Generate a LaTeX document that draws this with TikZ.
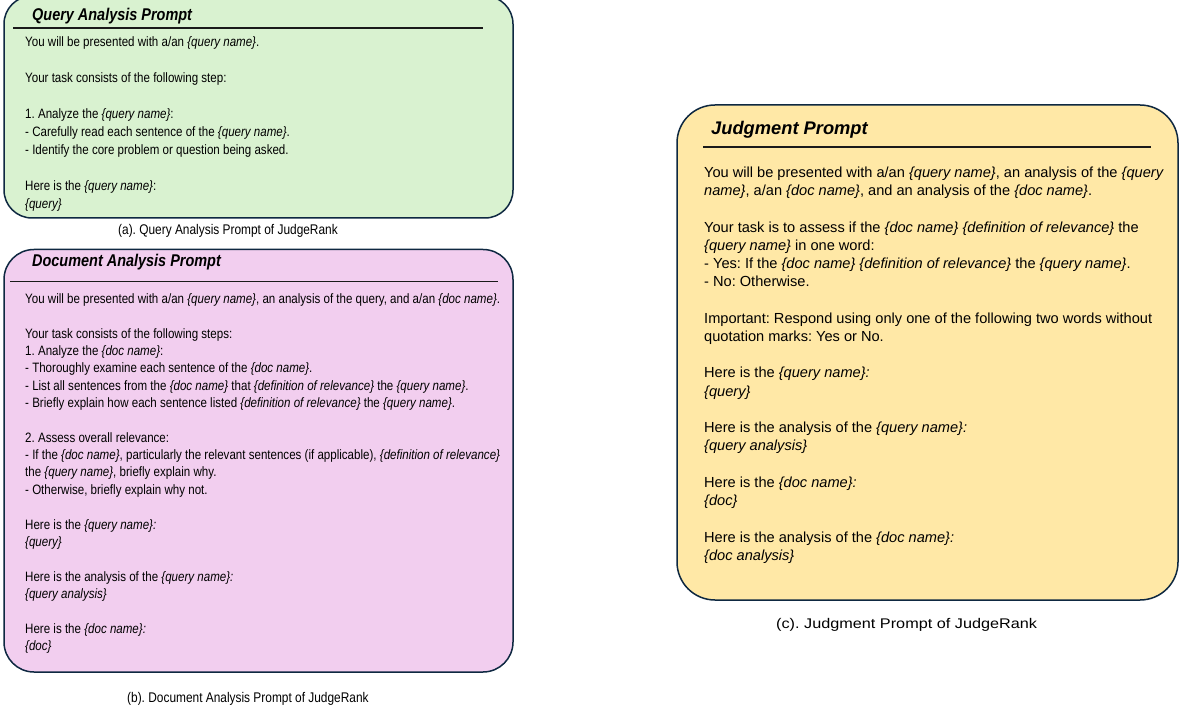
\documentclass[tikz,border=0pt]{standalone}
\usepackage{fontspec}
\setmainfont{Liberation Sans}
\newfontfamily\nf[FakeStretch=0.85]{Liberation Sans}
\newfontfamily\tf[FakeStretch=0.85]{Liberation Sans}
\newfontfamily\wf[FakeStretch=1.16]{Liberation Sans}
\newcommand\plc[1]{\textit{\{#1\}}}
\definecolor{bordercol}{HTML}{0E2841}
\definecolor{greenf}{HTML}{D9F2D0}
\definecolor{pinkf}{HTML}{F2CEEF}
\definecolor{yellowf}{HTML}{FFE8A6}
\definecolor{rulecol}{HTML}{1A1A1A}
\frenchspacing
\begin{document}
\begin{tikzpicture}[x=1pt,y=-1pt,
  promptbox/.style={draw=bordercol, line width=1.5pt},
  titlerule/.style={draw=rulecol, line width=1.6pt},
  lefttitle/.style={anchor=base west, inner sep=0pt, font={\tf\fontsize{17}{20}\selectfont\bfseries\itshape}},
  righttitle/.style={anchor=base west, inner sep=0pt, font={\fontsize{18.3}{22}\selectfont\bfseries\itshape}},
  bodytext/.style={anchor=base west, inner sep=0pt},
  captext/.style={anchor=base west, inner sep=0pt, font={\tf\fontsize{14}{16}\selectfont}},
]
\useasboundingbox (0,0) rectangle (1181,711);

% Box A
\path[promptbox, fill=greenf, rounded corners=28pt] (4,-4) rectangle (513,218);
\node[lefttitle] (ta) at (32,20.5) {Query Analysis Prompt};
\path[titlerule] (13,28.3) -- (483,28.3);
\node[bodytext] (ba) at (25,47) {\begin{minipage}[t]{480pt}\nf\fontsize{13.6}{17.9}\selectfont\frenchspacing
You will be presented with a/an \plc{query name}.\\[\baselineskip]
Your task consists of the following step:\\[\baselineskip]
1. Analyze the \plc{query name}:\\
- Carefully read each sentence of the \plc{query name}.\\
- Identify the core problem or question being asked.\\[\baselineskip]
Here is the \plc{query name}:\\
\plc{query}
\end{minipage}};
\node[captext] (ca) at (118,235) {(a). Query Analysis Prompt of JudgeRank};

% Box B
\path[promptbox, fill=pinkf, rounded corners=30pt] (4,249.5) rectangle (513,672);
\node[lefttitle] (tb) at (32,266.7) {Document Analysis Prompt};
\path[titlerule] (10,281.7) -- (498,281.7);
\node[bodytext] (bb) at (25,303.5) {\begin{minipage}[t]{485pt}\nf\fontsize{13.6}{17.35}\selectfont\frenchspacing
You will be presented with a/an \plc{query name}, an analysis of the query, and a/an \plc{doc name}.\\[\baselineskip]
Your task consists of the following steps:\\
1. Analyze the \plc{doc name}:\\
- Thoroughly examine each sentence of the \plc{doc name}.\\
- List all sentences from the \plc{doc name} that \plc{definition of relevance} the \plc{query name}.\\
- Briefly explain how each sentence listed \plc{definition of relevance} the \plc{query name}.\\[\baselineskip]
2. Assess overall relevance:\\
- If the \plc{doc name}, particularly the relevant sentences (if applicable), \plc{definition of relevance}\\
the \plc{query name}, briefly explain why.\\
- Otherwise, briefly explain why not.\\[\baselineskip]
Here is the \textit{\{query name\}:}\\
\plc{query}\\[\baselineskip]
Here is the analysis of the \textit{\{query name\}:}\\
\plc{query analysis}\\[\baselineskip]
Here is the \textit{\{doc name\}:}\\
\plc{doc}
\end{minipage}};
\node[captext] (cb) at (127,702) {(b). Document Analysis Prompt of JudgeRank};

% Box C
\path[promptbox, fill=yellowf, rounded corners=38pt] (677,105) rectangle (1178,600);
\node[righttitle] (tc) at (711,135) {Judgment Prompt};
\path[titlerule] (703,147) -- (1151,147);
\node[bodytext] (bc) at (704,177.3) {\begin{minipage}[t]{470pt}\fontsize{14.6}{18.24}\selectfont\frenchspacing
You will be presented with a/an \plc{query name}, an analysis of the \textit{\{query}\\
\textit{name\}}, a/an \plc{doc name}, and an analysis of the \plc{doc name}.\\[\baselineskip]
Your task is to assess if the \plc{doc name} \plc{definition of relevance} the\\
\plc{query name} in one word:\\
- Yes: If the \plc{doc name} \plc{definition of relevance} the \plc{query name}.\\
- No: Otherwise.\\[\baselineskip]
Important: Respond using only one of the following two words without\\
quotation marks: Yes or No.\\[\baselineskip]
Here is the \textit{\{query name\}:}\\
\plc{query}\\[\baselineskip]
Here is the analysis of the \textit{\{query name\}:}\\
\plc{query analysis}\\[\baselineskip]
Here is the \textit{\{doc name\}:}\\
\plc{doc}\\[\baselineskip]
Here is the analysis of the \textit{\{doc name\}:}\\
\plc{doc analysis}
\end{minipage}};
\node[captext, font={\wf\fontsize{14}{16}\selectfont}] (cc) at (776,628) {(c). Judgment Prompt of JudgeRank};
\end{tikzpicture}
\end{document}
